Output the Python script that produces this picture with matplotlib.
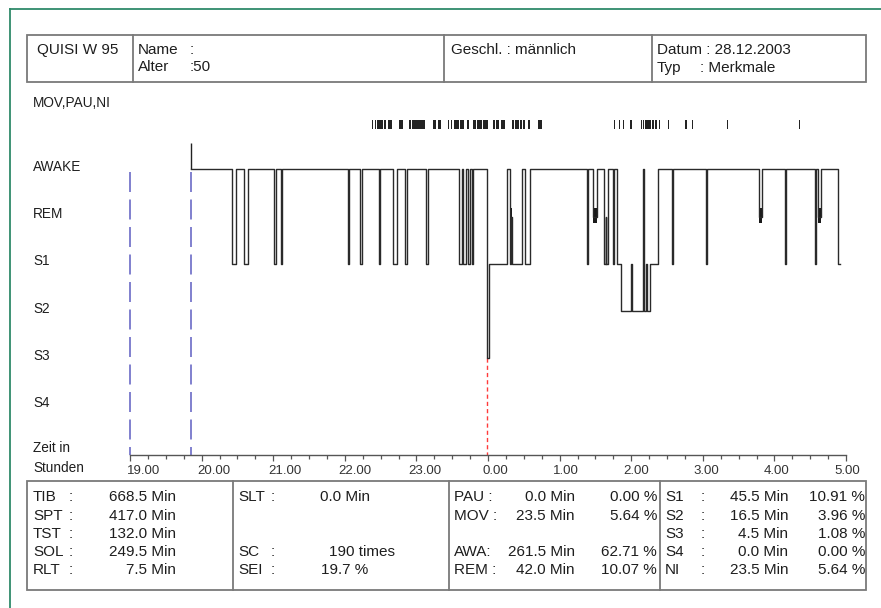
import matplotlib
matplotlib.use("Agg")
import matplotlib.pyplot as plt
from matplotlib import transforms
from matplotlib.patches import Rectangle
from matplotlib.lines import Line2D

plt.rcParams['font.family'] = ['Liberation Sans', 'DejaVu Sans']
plt.rcParams['lines.scale_dashes'] = False

# ---------------- data ----------------
stage_names = ["AWAKE", "REM", "S1", "S2", "S3", "S4"]
hour_labels = ["19.00", "20.00", "21.00", "22.00", "23.00", "0.00",
               "1.00", "2.00", "3.00", "4.00", "5.00"]

# hypnogram: transition times (minutes after 19:00) and stage index
hyp_times = [51.1, 85.2, 88.8, 95.5, 98.6, 120.9, 122.1, 126.3, 127.4,
             182.9, 183.7, 192.7, 194.4, 208.7, 209.5, 220.6, 223.5,
             230.5, 231.9, 247.8, 249.5, 276.0, 278.0, 279.3, 281.6,
             283.2, 284.9, 286.2, 287.2, 298.9, 301.1, 315.7, 318.4,
             319.4, 320.3, 328.3, 331.0, 335.2, 382.7, 383.6, 387.8,
             391.1, 397.2, 398.5, 399.3, 400.8, 405.0, 406.0, 407.9,
             411.5, 419.9, 420.5, 429.6, 430.4, 432.4, 433.3, 435.9,
             442.7, 453.9, 454.8, 482.4, 483.3, 527.4, 529.4, 548.9,
             549.7, 574.0, 574.9, 576.6, 578.8, 593.6]
hyp_stages = [0, 2, 0, 2, 0, 2, 0, 2, 0,
              2, 0, 2, 0, 2, 0, 2, 0,
              2, 0, 2, 0, 2, 0, 2, 0,
              2, 0, 2, 0, 4, 2, 0, 2,
              1, 2, 0, 2, 0, 2, 0, 1,
              0, 2, 1, 2, 0, 2, 0, 2,
              3, 2, 3, 0, 3, 2, 3, 2,
              0, 2, 0, 2, 0, 1, 0, 2,
              0, 2, 0, 1, 0, 2]
hyp_end = 595.0
lights_off = 51.1
sleep_onset = 299.0

# movement / PAU / NI events (minutes after 19:00, duration in minutes)
mov_start = [202.5, 204.9, 207.0, 212.9, 216.2, 225.8, 234.2, 236.7,
             254.3, 257.7, 266.1, 268.6, 271.1, 273.6, 276.5, 278.6,
             282.2, 287.8, 291.2, 295.8, 304.2, 306.7, 310.9, 320.1,
             322.6, 326.4, 329.3, 333.8, 342.2, 405.6, 409.8, 413.1,
             419.4, 428.0, 429.9, 431.6, 437.4, 440.0, 442.9, 445.4,
             450.8, 465.5, 471.0, 500.1, 560.6]
mov_dur = [1.1, 1.2, 5.0, 1.6, 3.1, 3.0, 1.3, 10.5,
           2.1, 3.3, 1.2, 1.2, 1.7, 2.1, 1.3, 1.3,
           2.1, 2.1, 3.4, 4.2, 1.3, 2.9, 3.4, 1.7,
           3.0, 1.7, 1.7, 1.4, 2.8, 0.8, 0.8, 0.9,
           0.9, 1.1, 0.8, 5.0, 1.7, 1.6, 1.2, 0.8,
           0.9, 0.9, 0.8, 0.8, 0.9]

# header info
header_program = "QUISI W 95"
header_age = "50"
header_sex = "männlich"
header_date = "28.12.2003"
header_type = "Merkmale"

# statistics
c1_labels = ["TIB", "SPT", "TST", "SOL", "RLT"]
c1_minutes = [668.5, 417.0, 132.0, 249.5, 7.5]
slt_minutes = 0.0
sc_times = 190
sei_percent = 19.7
c3_labels = ["PAU :", "MOV :", None, "AWA:", "REM :"]
c3_minutes = [0.0, 23.5, None, 261.5, 42.0]
c3_percent = [0.00, 5.64, None, 62.71, 10.07]
c4_labels = ["S1", "S2", "S3", "S4", "NI"]
c4_minutes = [45.5, 16.5, 4.5, 0.0, 23.5]
c4_percent = [10.91, 3.96, 1.08, 0.00, 5.64]

# ---------------- figure ----------------
W, H = 881, 608
fig = plt.figure(figsize=(W / 100, H / 100), dpi=100)


def fx(x):
    return x / W


def fy(y):
    return 1 - y / H


TXT = '#1e1e1e'
FS_LAB = 9.8
FS_BOX = 11.0
BOXC = '#7a7a7a'

# outer green frame (top + left)
fig.add_artist(Line2D([fx(10), fx(881)], [fy(9), fy(9)], color='#2f8a6a', lw=1.3))
fig.add_artist(Line2D([fx(10), fx(10)], [fy(9), fy(608)], color='#2f8a6a', lw=1.3))

# main hypnogram axes
ax = fig.add_axes([fx(130), fy(455), fx(846) - fx(130), fy(100) - fy(455)])
ax.set_xlim(0, 600)
ax.set_ylim(6.05, -1.467)
ax.patch.set_alpha(0)
for s in ['top', 'right', 'left']:
    ax.spines[s].set_visible(False)
ax.spines['bottom'].set_color('#555555')
ax.spines['bottom'].set_linewidth(1.0)
ax.set_yticks([])
ax.set_xticks(range(0, 601, 60))
ax.set_xticks([m for m in range(0, 601, 15) if m % 60], minor=True)
ax.tick_params(axis='x', which='major', direction='out', length=4.5, width=0.9,
               color='#555555', pad=2.5, labelsize=9.5, labelcolor='#333333')
ax.tick_params(axis='x', which='minor', direction='out', length=2.6, width=0.9,
               color='#555555')
ax.set_xticklabels(hour_labels, ha='center')
# the labels of the original drift slightly left of their ticks towards the right
for i, lab in enumerate(ax.get_xticklabels()):
    dx = (14 - 1.3 * i) / 100
    lab.set_transform(lab.get_transform() +
                      transforms.ScaledTranslation(dx, 0, fig.dpi_scale_trans))

# dashed markers
ax.vlines([0, lights_off], 0.05, 6.05, colors='#6b6bc6', lw=1.2,
          linestyles=[(0, (14.4, 5.4))], clip_on=False)
ax.vlines(sleep_onset, 4, 6.05, colors='#ff3b3b', lw=1.0,
          linestyles=[(0, (3, 2.2))], clip_on=False)
ax.vlines(lights_off, -0.56, 0, colors='#222222', lw=1.0, clip_on=False)

# hypnogram trace
xs = hyp_times + [hyp_end]
ys = hyp_stages + [hyp_stages[-1]]
ax.plot(xs, ys, drawstyle='steps-post', color='#2a2a2a', lw=1.0, clip_on=False)

# REM shown as thick blocks
rem_segs = [(t, xs[i + 1] - t) for i, (t, s) in enumerate(zip(hyp_times, hyp_stages)) if s == 1]
ax.broken_barh(rem_segs, (0.82, 0.32), facecolor='#1a1a1a', clip_on=False)

# MOV / PAU / NI events
ax.broken_barh(list(zip(mov_start, mov_dur)), (-1.04, 0.19), facecolor='#232323')

# stage labels
trans = transforms.blended_transform_factory(fig.transFigure, ax.transData)
for i, name in enumerate(stage_names):
    ax.text(fx(33), i - 0.05, name, transform=trans, va='center', ha='left',
            fontsize=FS_LAB, color=TXT)

fig.text(fx(33), fy(103), "MOV,PAU,NI", va='center', ha='left', fontsize=FS_LAB, color=TXT)
fig.text(fx(33), fy(448), "Zeit in", va='center', ha='left', fontsize=FS_LAB, color=TXT)
fig.text(fx(33), fy(468), "Stunden", va='center', ha='left', fontsize=FS_LAB, color=TXT)


def box(x0, y0, x1, y1, seps):
    fig.add_artist(Rectangle((fx(x0), fy(y1)), fx(x1) - fx(x0), fy(y0) - fy(y1),
                             transform=fig.transFigure, fill=False, ec=BOXC, lw=1.3))
    for sx in seps:
        fig.add_artist(Line2D([fx(sx), fx(sx)], [fy(y0), fy(y1)], color=BOXC, lw=1.3))


def t(x, y, s, ha='left'):
    fig.text(fx(x), fy(y), s, va='center', ha=ha, fontsize=FS_BOX, color=TXT)


# header
box(27, 35, 866, 82, [133, 444, 652])
t(37, 50, header_program)
t(138, 50, "Name")
t(190, 50, ":")
t(138, 67, "Alter")
t(190, 67, ":" + header_age)
t(451, 50, "Geschl. : " + header_sex)
t(657, 50, "Datum : " + header_date)
t(657, 68, "Typ")
t(700, 68, ": " + header_type)

# statistics box
box(27, 481, 866, 590, [233, 449, 660])
rows = [497, 515.5, 534, 552, 570.5]
for i, (lab, v) in enumerate(zip(c1_labels, c1_minutes)):
    t(33, rows[i], lab)
    t(69, rows[i], ":")
    t(176, rows[i], f"{v:.1f} Min", ha='right')

t(238, rows[0], "SLT")
t(271, rows[0], ":")
t(370, rows[0], f"{slt_minutes:.1f} Min", ha='right')
t(238, rows[3], "SC")
t(271, rows[3], ":")
t(395, rows[3], f"{sc_times} times", ha='right')
t(238, rows[4], "SEI")
t(271, rows[4], ":")
t(368, rows[4], f"{sei_percent:.1f} %", ha='right')

for i, (lab, m, p) in enumerate(zip(c3_labels, c3_minutes, c3_percent)):
    if lab is None:
        continue
    t(454, rows[i], lab)
    t(575, rows[i], f"{m:.1f} Min", ha='right')
    t(657, rows[i], f"{p:.2f} %", ha='right')

for i, (lab, m, p) in enumerate(zip(c4_labels, c4_minutes, c4_percent)):
    t(665, rows[i], lab)
    t(701, rows[i], ":")
    t(788, rows[i], f"{m:.1f} Min", ha='right')
    t(865, rows[i], f"{p:.2f} %", ha='right')

fig.savefig("out.png", dpi=100)
